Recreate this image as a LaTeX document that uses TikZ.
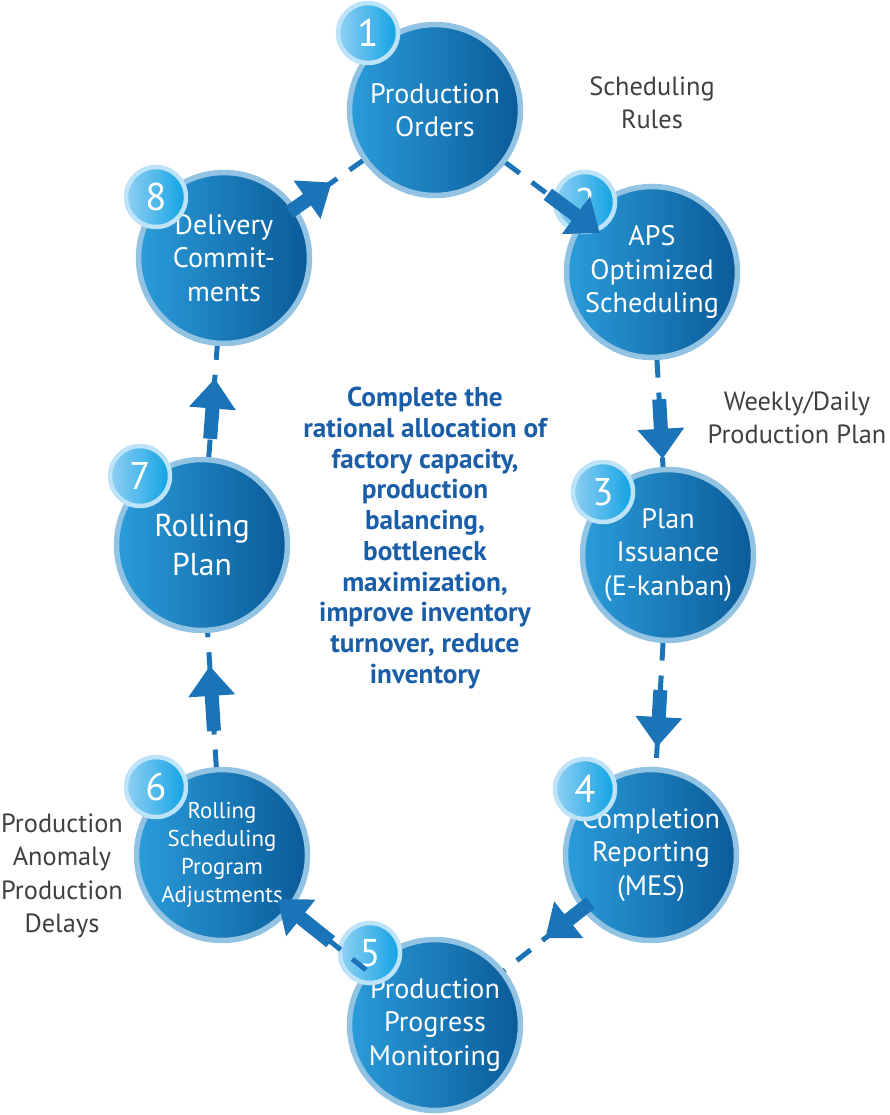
\documentclass[tikz,border=0pt]{standalone}
\usepackage{fontspec}
\setmainfont{PT Sans}
\usetikzlibrary{calc,arrows.meta}
\definecolor{stepdark}{HTML}{0A5A98}
\definecolor{steplight}{HTML}{2B9CDA}
\definecolor{stepring}{HTML}{93C3E2}
\definecolor{badgelight}{HTML}{8FD0F2}
\definecolor{badgedark}{HTML}{10A2E4}
\definecolor{linkblue}{HTML}{1C74B8}
\definecolor{midtext}{HTML}{1A5EA8}
\definecolor{sidetext}{HTML}{404040}
\tikzset{
    stage/.style={circle, draw=stepring, line width=1.1mm, minimum size=3.42cm,
        left color=steplight, right color=stepdark, text=white, align=center,
        font=\fontsize{16}{19}\selectfont, inner sep=0pt},
    badge/.style={circle, draw=badgelight!60, line width=0.9mm, minimum size=1.2cm,
        left color=badgelight, right color=badgedark, text=white,
        font=\fontsize{22}{22}\selectfont},
    dashlink/.style={linkblue, line width=1mm, dash pattern=on 3.5mm off 3mm},
    bigarrow/.style={linkblue, line width=2.8mm, -{Triangle[width=9mm,length=6mm]}},
    side/.style={text=sidetext, align=center, font=\fontsize{15}{19}\selectfont}
}
\begin{document}
\begin{tikzpicture}[x=0.02cm,y=-0.02cm]
    \useasboundingbox (0,0) rectangle (889,1115);

    % stages
    \node[stage] (c1) at (435,110) {Production\\Orders};
    \node[stage] (c2) at (652,272) {APS\\Optimized\\Scheduling};
    \node[stage] (c3) at (668,555) {Plan\\Issuance\\(E-kanban)};
    \node[stage] (c4) at (651,855) {Completion\\Reporting\\(MES)};
    \node[stage] (c5) at (435,1025) {Production\\Progress\\Monitoring};
    \node[stage, font=\fontsize{13}{16}\selectfont] (c6) at (222,855) {Rolling\\Scheduling\\Program\\Adjustments};
    \node[stage, font=\fontsize{18}{22}\selectfont] (c7) at (202,545) {Rolling\\Plan};
    \node[stage] (c8) at (224,258) {Delivery\\Commit-\\ments};

    % badges
    \node[badge] (b1) at (368,33) {1};
    \node[badge] (b2) at (585,202) {2};
    \node[badge] (b3) at (603,492) {3};
    \node[badge] (b4) at (585,789) {4};
    \node[badge] (b5) at (370,953) {5};
    \node[badge] (b6) at (156,787) {6};
    \node[badge] (b7) at (140,476) {7};
    \node[badge] (b8) at (156,197) {8};

    % links
    \foreach \a/\b/\s/\e in {1/2/0.52/0.76, 2/3/0.45/0.66, 3/4/0.45/0.64, 4/5/0.28/0.49,
                             5/6/0.49/0.74, 6/7/0.40/0.61, 7/8/0.37/0.58, 8/1/0.31/0.51}{
        \draw[dashlink] (c\a) -- (c\b);
        \draw[bigarrow] ($(c\a)!\s!(c\b)$) -- ($(c\a)!\e!(c\b)$);
    }

    % texts
    \node[side] (rules) at (652,103) {Scheduling\\Rules};
    \node[side] (plan) at (797,418) {Weekly/Daily\\Production Plan};
    \node[side] (delay) at (62,876) {Production\\Anomaly\\Production\\Delays};
    \node[text=midtext, align=center, font=\bfseries\fontsize{15.5}{17.5}\selectfont] (goal) at (425,538)
        {Complete the\\rational allocation of\\factory capacity,\\production\\balancing,\\bottleneck\\maximization,\\improve inventory\\turnover, reduce\\inventory};
\end{tikzpicture}
\end{document}
